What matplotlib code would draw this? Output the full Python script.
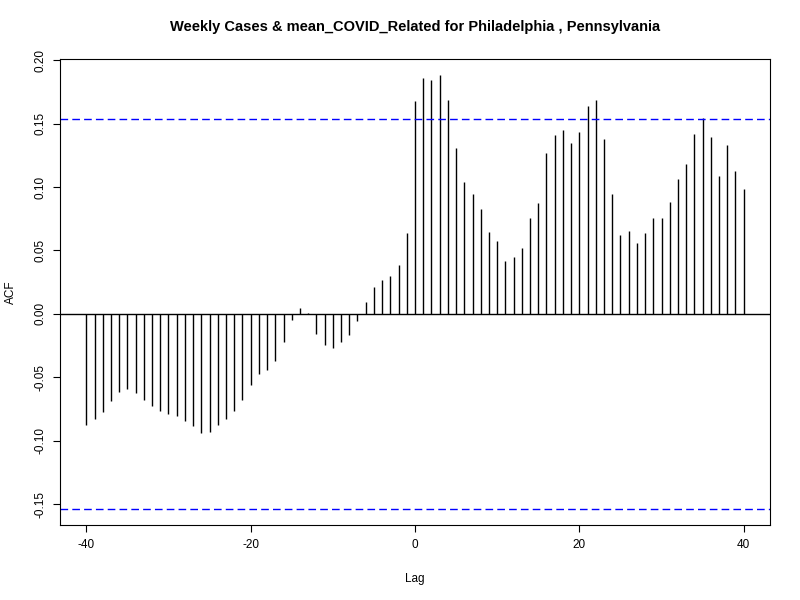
import matplotlib
matplotlib.use("Agg")
import matplotlib.pyplot as plt
import numpy as np

plt.rcParams['font.family'] = ['Liberation Sans', 'DejaVu Sans']

lags = list(range(-40, 41))
acf_vals = [
    -0.0877, -0.0828, -0.0772, -0.0685, -0.0614, -0.0593, -0.0622, -0.0677, -0.0725, -0.0764,  # -40..-31
    -0.0788, -0.0804, -0.0843, -0.0883, -0.0938, -0.0930, -0.0875, -0.0828, -0.0764, -0.0677,  # -30..-21
    -0.0559, -0.0472, -0.0440, -0.0369, -0.0219, -0.0045, 0.0047, 0.0006, -0.0156, -0.0243,    # -20..-11
    -0.0266, -0.0219, -0.0163, -0.0053, 0.0095, 0.0213, 0.0269, 0.0300, 0.0387, 0.0640,        # -10..-1
    0.1676,                                                                                   # 0
    0.1858, 0.1842, 0.1881, 0.1684, 0.1304, 0.1043, 0.0949, 0.0830, 0.0648, 0.0577,            # 1..10
    0.0419, 0.0451, 0.0522, 0.0759, 0.0877, 0.1265, 0.1407, 0.1447, 0.1344, 0.1431,            # 11..20
    0.1636, 0.1684, 0.1375, 0.0949, 0.0625, 0.0656, 0.0561, 0.0640, 0.0759, 0.0759,            # 21..30
    0.0885, 0.1067, 0.1178, 0.1415, 0.1541, 0.1391, 0.1091, 0.1328, 0.1130, 0.0988,            # 31..40
]
conf_limit = 0.1534
x_ticks = [-40, -20, 0, 20, 40]
y_ticks = [-0.15, -0.10, -0.05, 0.00, 0.05, 0.10, 0.15, 0.20]
y_tick_labels = ["-0.15", "-0.10", "-0.05", "0.00", "0.05", "0.10", "0.15", "0.20"]

fig = plt.figure(figsize=(8, 6), dpi=100)
ax = fig.add_axes([0.075, 0.125, 0.8875, 0.777])

ax.vlines(lags, 0, acf_vals, colors='black', linewidth=1.0)
ax.axhline(0, color='black', linewidth=1.0)
ax.axhline(conf_limit, color='#0000FF', linestyle=(0, (5.5, 3)), linewidth=1.0)
ax.axhline(-conf_limit, color='#0000FF', linestyle=(0, (5.5, 3)), linewidth=1.0)

ax.set_xlim(-43.2, 43.2)
ax.set_ylim(-0.1664, 0.2011)
ax.set_xticks(x_ticks)
ax.set_xticklabels([str(t) for t in x_ticks], fontsize=8.5)
ax.set_yticks(y_ticks)
ax.set_yticklabels(y_tick_labels, fontsize=8.5, rotation=90, va='center')
ax.tick_params(direction='out', length=5, width=0.8, pad=5)
for s in ax.spines.values():
    s.set_linewidth(0.8)

ax.set_xlabel("Lag", fontsize=8.5, labelpad=16)
ax.set_ylabel("ACF", fontsize=8.5, labelpad=12)
ax.set_title("Weekly Cases & mean_COVID_Related for Philadelphia , Pennsylvania",
             fontsize=10.5, fontweight='bold', pad=20)

fig.savefig("out.png", dpi=100)
